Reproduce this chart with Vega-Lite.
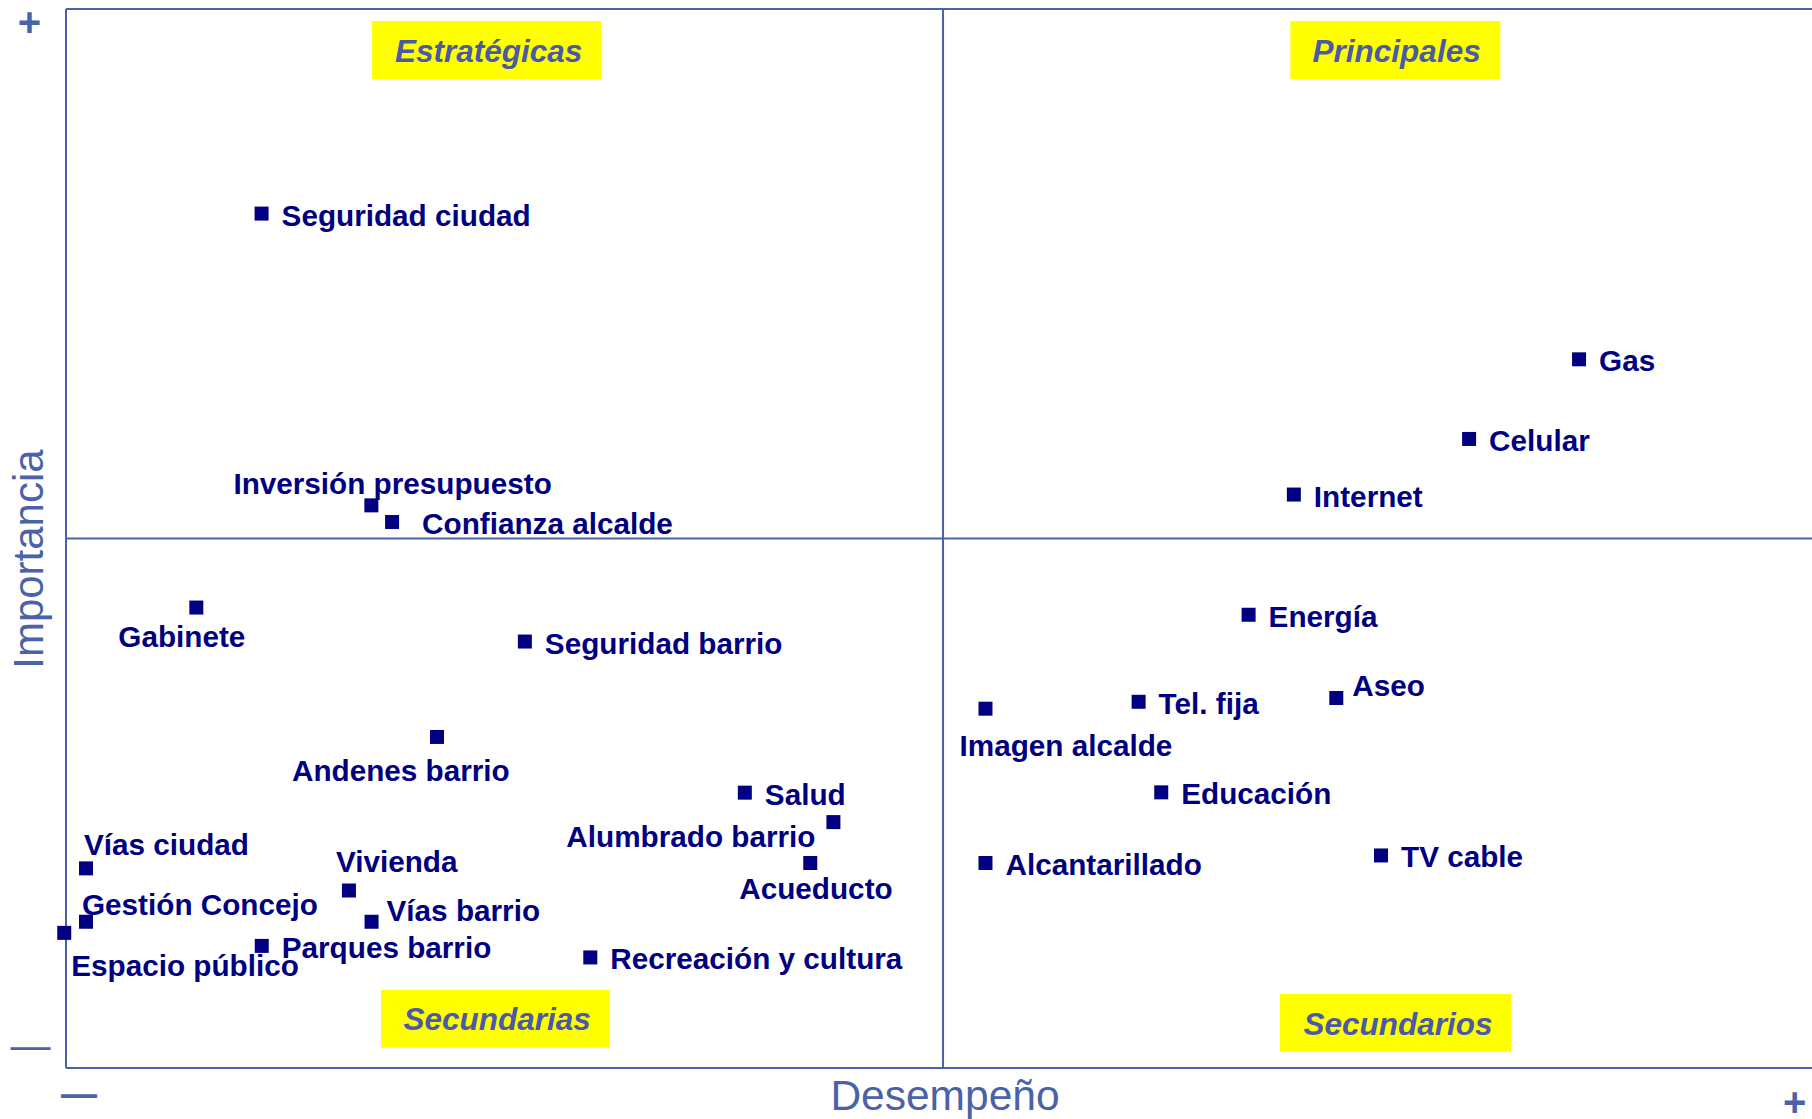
{
  "$schema": "https://vega.github.io/schema/vega-lite/v6.json",
  "width": 1746,
  "height": 1059,
  "autosize": {"type": "none"},
  "padding": {"left": 66, "top": 9, "right": 0, "bottom": 51},
  "background": "white",
  "config": {"view": {"stroke": null}, "text": {"font": "Liberation Sans"}},
  "data": {"values": [
    {"name": "Seguridad ciudad", "x": 11.15, "y": 80.68},
    {"name": "Gas", "x": 86.26, "y": 66.92},
    {"name": "Celular", "x": 79.99, "y": 59.4},
    {"name": "Internet", "x": 70.0, "y": 54.15},
    {"name": "Inversión presupuesto", "x": 17.41, "y": 53.13},
    {"name": "Confianza alcalde", "x": 18.59, "y": 51.56},
    {"name": "Gabinete", "x": 7.43, "y": 43.48},
    {"name": "Seguridad barrio", "x": 26.16, "y": 40.27},
    {"name": "Andenes barrio", "x": 21.15, "y": 31.26},
    {"name": "Salud", "x": 38.7, "y": 26.0},
    {"name": "Alumbrado barrio", "x": 43.75, "y": 23.22},
    {"name": "Acueducto", "x": 42.43, "y": 19.36},
    {"name": "Vías ciudad", "x": 1.14, "y": 18.85},
    {"name": "Vivienda", "x": 16.13, "y": 16.76},
    {"name": "Gestión Concejo", "x": 1.14, "y": 13.81},
    {"name": "Vías barrio", "x": 17.42, "y": 13.81},
    {"name": "Espacio público", "x": -0.1, "y": 12.76},
    {"name": "Parques barrio", "x": 11.16, "y": 11.53},
    {"name": "Recreación y cultura", "x": 29.89, "y": 10.44},
    {"name": "Energía", "x": 67.42, "y": 42.8},
    {"name": "Tel. fija", "x": 61.15, "y": 34.58},
    {"name": "Aseo", "x": 72.42, "y": 34.94},
    {"name": "Imagen alcalde", "x": 52.42, "y": 33.93},
    {"name": "Educación", "x": 62.44, "y": 26.03},
    {"name": "Alcantarillado", "x": 52.42, "y": 19.36},
    {"name": "TV cable", "x": 74.97, "y": 20.07}
  ]},
  "encoding": {
    "x": {"field": "x", "type": "quantitative", "scale": {"domain": [0, 99.54], "nice": false, "zero": false}, "axis": null},
    "y": {"field": "y", "type": "quantitative", "scale": {"domain": [0, 100], "nice": false, "zero": false}, "axis": null}
  },
  "layer": [
    {
      "data": {"values": [
        {"x": 17.45, "x2": 30.5, "y": 93.39, "y2": 98.87},
        {"x": 69.8, "x2": 81.77, "y": 93.39, "y2": 98.87},
        {"x": 17.96, "x2": 31.01, "y": 1.92, "y2": 7.37},
        {"x": 69.21, "x2": 82.38, "y": 1.54, "y2": 6.99}
      ]},
      "mark": {"type": "rect", "color": "#FFFF00"},
      "encoding": {"x2": {"field": "x2"}, "y2": {"field": "y2"}}
    },
    {
      "data": {"values": [
        {"x": 0, "x2": 99.54, "y": 100},
        {"x": 0, "x2": 99.54, "y": 0},
        {"x": 0, "x2": 99.54, "y": 50}
      ]},
      "mark": {"type": "rule", "color": "#4A62A8", "strokeWidth": 2},
      "encoding": {"x2": {"field": "x2"}}
    },
    {
      "data": {"values": [
        {"x": 0, "y": 0, "y2": 100},
        {"x": 50, "y": 0, "y2": 100}
      ]},
      "mark": {"type": "rule", "color": "#4A62A8", "strokeWidth": 2},
      "encoding": {"y2": {"field": "y2"}}
    },
    {
      "data": {"values": [
        {"t": "Estratégicas", "x": 24.09, "y": 96.05},
        {"t": "Principales", "x": 75.86, "y": 96.04},
        {"t": "Secundarias", "x": 24.58, "y": 4.61},
        {"t": "Secundarios", "x": 75.94, "y": 4.18}
      ]},
      "mark": {"type": "text", "align": "center", "baseline": "alphabetic", "dy": 11, "font": "Liberation Sans", "fontSize": 31.5, "fontWeight": "bold", "fontStyle": "italic", "color": "#4A5AA6"},
      "encoding": {"text": {"field": "t"}}
    },
    {
      "data": {"values": [
        {"t": "+", "x": -2.09, "y": 98.74},
        {"t": "+", "x": 98.55, "y": -3.21}
      ]},
      "mark": {"type": "text", "align": "center", "baseline": "alphabetic", "dy": 14, "font": "Liberation Sans", "fontSize": 40, "fontWeight": "bold", "color": "#4A62A8"},
      "encoding": {"text": {"field": "t"}}
    },
    {
      "data": {"values": [{"t": "—", "x": -2.03, "y": 1.77}]},
      "mark": {"type": "text", "align": "center", "baseline": "alphabetic", "dy": 10, "font": "Liberation Sans", "fontSize": 40, "color": "#4A62A8"},
      "encoding": {"text": {"field": "t"}}
    },
    {
      "data": {"values": [{"t": "—", "x": 0.74, "y": -2.77}]},
      "mark": {"type": "text", "align": "center", "baseline": "alphabetic", "dy": 9, "font": "Liberation Sans", "fontSize": 36, "fontWeight": "bold", "color": "#4A62A8"},
      "encoding": {"text": {"field": "t"}}
    },
    {
      "data": {"values": [{"t": "Importancia", "x": -1.33, "y": 48.06}]},
      "mark": {"type": "text", "align": "center", "baseline": "alphabetic", "angle": 270, "font": "Liberation Sans", "fontSize": 42, "color": "#4A62A8"},
      "encoding": {"text": {"field": "t"}}
    },
    {
      "data": {"values": [{"t": "Desempeño", "x": 50.11, "y": -3.97}]},
      "mark": {"type": "text", "align": "center", "baseline": "alphabetic", "font": "Liberation Sans", "fontSize": 42.5, "color": "#4A62A8"},
      "encoding": {"text": {"field": "t"}}
    },
    {
      "mark": {"type": "point", "shape": "square", "filled": true, "size": 196, "color": "#000080", "opacity": 1}
    },
    {
      "transform": [{"filter": {"field": "name", "oneOf": ["Seguridad ciudad", "Gas", "Celular", "Internet", "Seguridad barrio", "Salud", "Parques barrio", "Recreación y cultura", "Energía", "Tel. fija", "Educación", "Alcantarillado", "TV cable"]}}],
      "mark": {"type": "text", "align": "left", "baseline": "alphabetic", "dx": 20, "dy": 12, "font": "Liberation Sans", "fontWeight": "bold", "fontSize": 29.7, "color": "#000080"},
      "encoding": {"text": {"field": "name"}}
    },
    {
      "transform": [{"filter": {"field": "name", "equal": "Confianza alcalde"}}],
      "mark": {"type": "text", "align": "left", "baseline": "alphabetic", "dx": 30, "dy": 12, "font": "Liberation Sans", "fontWeight": "bold", "fontSize": 29.7, "color": "#000080"},
      "encoding": {"text": {"field": "name"}}
    },
    {
      "transform": [{"filter": {"field": "name", "equal": "Vías barrio"}}],
      "mark": {"type": "text", "align": "left", "baseline": "alphabetic", "dx": 15, "dy": -1, "font": "Liberation Sans", "fontWeight": "bold", "fontSize": 29.7, "color": "#000080"},
      "encoding": {"text": {"field": "name"}}
    },
    {
      "transform": [{"filter": {"field": "name", "equal": "Aseo"}}],
      "mark": {"type": "text", "align": "left", "baseline": "alphabetic", "dx": 16, "dy": -2, "font": "Liberation Sans", "fontWeight": "bold", "fontSize": 29.7, "color": "#000080"},
      "encoding": {"text": {"field": "name"}}
    },
    {
      "transform": [{"filter": {"field": "name", "equal": "Inversión presupuesto"}}],
      "mark": {"type": "text", "align": "left", "baseline": "alphabetic", "dx": -138, "dy": -11, "font": "Liberation Sans", "fontWeight": "bold", "fontSize": 29.7, "color": "#000080"},
      "encoding": {"text": {"field": "name"}}
    },
    {
      "transform": [{"filter": {"field": "name", "equal": "Gabinete"}}],
      "mark": {"type": "text", "align": "left", "baseline": "alphabetic", "dx": -78, "dy": 39, "font": "Liberation Sans", "fontWeight": "bold", "fontSize": 29.7, "color": "#000080"},
      "encoding": {"text": {"field": "name"}}
    },
    {
      "transform": [{"filter": {"field": "name", "equal": "Andenes barrio"}}],
      "mark": {"type": "text", "align": "left", "baseline": "alphabetic", "dx": -145, "dy": 44, "font": "Liberation Sans", "fontWeight": "bold", "fontSize": 29.7, "color": "#000080"},
      "encoding": {"text": {"field": "name"}}
    },
    {
      "transform": [{"filter": {"field": "name", "equal": "Acueducto"}}],
      "mark": {"type": "text", "align": "left", "baseline": "alphabetic", "dx": -71, "dy": 36, "font": "Liberation Sans", "fontWeight": "bold", "fontSize": 29.7, "color": "#000080"},
      "encoding": {"text": {"field": "name"}}
    },
    {
      "transform": [{"filter": {"field": "name", "equal": "Imagen alcalde"}}],
      "mark": {"type": "text", "align": "left", "baseline": "alphabetic", "dx": -26, "dy": 47, "font": "Liberation Sans", "fontWeight": "bold", "fontSize": 29.7, "color": "#000080"},
      "encoding": {"text": {"field": "name"}}
    },
    {
      "transform": [{"filter": {"field": "name", "equal": "Espacio público"}}],
      "mark": {"type": "text", "align": "left", "baseline": "alphabetic", "dx": 7, "dy": 43, "font": "Liberation Sans", "fontWeight": "bold", "fontSize": 29.7, "color": "#000080"},
      "encoding": {"text": {"field": "name"}}
    },
    {
      "transform": [{"filter": {"field": "name", "equal": "Alumbrado barrio"}}],
      "mark": {"type": "text", "align": "right", "baseline": "alphabetic", "dx": -18, "dy": 25, "font": "Liberation Sans", "fontWeight": "bold", "fontSize": 29.7, "color": "#000080"},
      "encoding": {"text": {"field": "name"}}
    },
    {
      "transform": [{"filter": {"field": "name", "equal": "Vías ciudad"}}],
      "mark": {"type": "text", "align": "left", "baseline": "alphabetic", "dx": -2, "dy": -13, "font": "Liberation Sans", "fontWeight": "bold", "fontSize": 29.7, "color": "#000080"},
      "encoding": {"text": {"field": "name"}}
    },
    {
      "transform": [{"filter": {"field": "name", "equal": "Vivienda"}}],
      "mark": {"type": "text", "align": "left", "baseline": "alphabetic", "dx": -13, "dy": -19, "font": "Liberation Sans", "fontWeight": "bold", "fontSize": 29.7, "color": "#000080"},
      "encoding": {"text": {"field": "name"}}
    },
    {
      "transform": [{"filter": {"field": "name", "equal": "Gestión Concejo"}}],
      "mark": {"type": "text", "align": "left", "baseline": "alphabetic", "dx": -4, "dy": -7, "font": "Liberation Sans", "fontWeight": "bold", "fontSize": 29.7, "color": "#000080"},
      "encoding": {"text": {"field": "name"}}
    }
  ]
}
